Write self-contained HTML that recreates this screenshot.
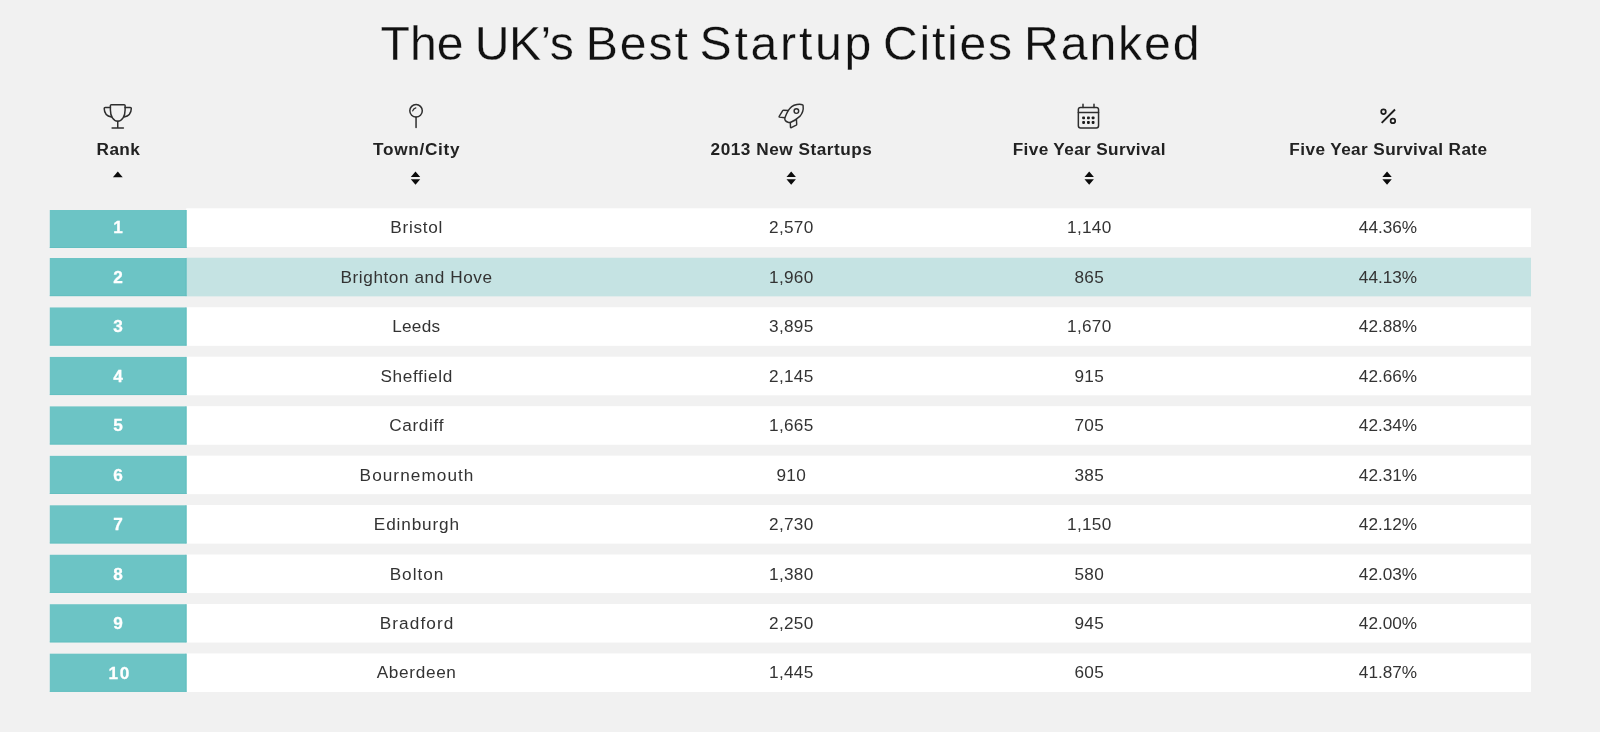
<!DOCTYPE html>
<html lang="en"><head><meta charset="utf-8"><title>The UK's Best Startup Cities Ranked</title>
<style>
html,body{margin:0;padding:0;}
body{width:1600px;height:732px;background:#f1f1f1;position:relative;overflow:hidden;font-family:"Liberation Sans",sans-serif;color:#333;}
.abs{position:absolute;}
.c,.hl,h1{will-change:transform;}
h1{position:absolute;left:0;margin:0;width:1600px;height:52px;font-weight:400;font-size:48.2px;line-height:52px;top:16.9px;color:#111;-webkit-text-stroke:0.3px #f1f1f1;white-space:nowrap;}
h1 span{position:absolute;top:0;}
.hl{position:absolute;width:300px;text-align:center;font-weight:700;font-size:17.2px;line-height:20px;top:139.1px;color:#222;white-space:nowrap;}
.c.k{color:#fff;font-weight:700;-webkit-text-stroke:0.3px #fff;}
.c{position:absolute;width:300px;text-align:center;font-size:17.2px;line-height:20px;color:#333;white-space:nowrap;}
</style></head>
<body>
<h1><span style="left:380.6px;letter-spacing:-0.10px">The</span> <span style="left:474.8px;letter-spacing:-0.60px">UK’s</span> <span style="left:585.8px;letter-spacing:1.90px">Best</span> <span style="left:699.6px;letter-spacing:2.73px">Startup</span> <span style="left:883.0px;letter-spacing:1.70px">Cities</span> <span style="left:1024.0px;letter-spacing:1.90px">Ranked</span></h1>
<svg class="abs" style="left:0;top:95px" width="1600" height="40" viewBox="0 95 1600 40" fill="none" stroke="#2e2e2e" stroke-width="1.5" stroke-linecap="round" stroke-linejoin="round">
<!-- trophy -->
<g>
<path d="M110.4 105.6 Q110.4 104.65 111.4 104.65 H124.1 Q125.1 104.65 125.1 105.6 V110 C125.1 116.2 122.2 121.2 117.75 121.2 C113.3 121.2 110.4 116.2 110.4 110 Z"/>
<path d="M110.4 107.6 H105.2 Q104.2 107.6 104.2 108.6 C104.3 113.3 107 116.3 111.4 117.1"/>
<path d="M125.1 107.6 H130.3 Q131.3 107.6 131.3 108.6 C131.2 113.3 128.5 116.3 124.1 117.1"/>
<path d="M117.75 121.2 V128 M112.1 128 H123.4"/>
</g>
<!-- pin -->
<g>
<circle cx="416.05" cy="110.8" r="6.25"/>
<path d="M416.05 117.2 V127.5"/>
<path d="M412.7 110.8 C413.1 109.3 414.2 108.2 415.8 107.8" stroke-width="1.3"/>
</g>
<!-- rocket -->
<g stroke-width="1.45">
<path d="M802.4 104.7 C799.5 103.8 794.5 104.6 791.7 106.6 C788.6 109 786.6 113 785 117.5 C784.2 119.8 785.6 121.6 788 122.2 C789 122.5 790 122.5 790.8 122.2 C794 121 797.5 118.5 799.8 116.4 C802.4 113.5 803.5 108.5 803.1 105.6 C803 105.1 802.8 104.8 802.4 104.7 Z"/>
<circle cx="796.4" cy="111.05" r="2.3"/>
<path d="M788 110.5 L783.6 110.2 Q783 110.2 782.7 110.7 L779.2 116.4 Q778.9 117 779.6 117.1 L784.6 117.7"/>
<path d="M790.3 122.4 L790.5 127.2 Q790.6 128 791.3 127.6 L796.2 125.1 Q796.7 124.8 796.7 124.2 L796.4 119.2"/>
</g>
<!-- calendar -->
<g>
<rect x="1078.35" y="107.4" width="20.2" height="20.6" rx="2.2"/>
<path d="M1078.35 112.6 H1098.55 M1083 104.3 V107.4 M1094 104.3 V107.4"/>
<g fill="#1c1c1c" stroke="none">
<rect x="1082.2" y="116.55" width="2.8" height="2.8" rx="0.8"/><rect x="1087" y="116.55" width="2.8" height="2.8" rx="0.8"/><rect x="1091.7" y="116.55" width="2.8" height="2.8" rx="0.8"/>
<rect x="1082.2" y="121.1" width="2.8" height="2.8" rx="0.8"/><rect x="1087" y="121.1" width="2.8" height="2.8" rx="0.8"/><rect x="1091.7" y="121.1" width="2.8" height="2.8" rx="0.8"/>
</g>
</g>
<!-- percent -->
<g stroke-width="1.7" stroke="#1e1e1e">
<circle cx="1383.5" cy="111.75" r="2.3"/>
<circle cx="1392.9" cy="120.9" r="2.3"/>
<path d="M1381.7 122.8 L1395 109.5" stroke-width="1.9" stroke-linecap="butt"/>
</g>
</svg>
<div class="hl" style="left:-32.0px;letter-spacing:0.37px;padding-left:0.37px;">Rank</div>
<div class="hl" style="left:266.1px;letter-spacing:0.70px;padding-left:0.70px;">Town/City</div>
<div class="hl" style="left:641.0px;letter-spacing:0.53px;padding-left:0.53px;">2013 New Startups</div>
<div class="hl" style="left:939.0px;letter-spacing:0.35px;padding-left:0.35px;">Five Year Survival</div>
<div class="hl" style="left:1237.8px;letter-spacing:0.40px;padding-left:0.40px;">Five Year Survival Rate</div>
<svg class="abs" style="left:0;top:165px" width="1600" height="30" viewBox="0 165 1600 30" fill="#0c0c0c">
<path d="M112.90 177.2 L117.80 171.6 L122.70 177.2 Z"/>
<path d="M410.80 177 L415.50 171.5 L420.20 177 Z M410.80 179.3 L420.20 179.3 L415.50 184.8 Z"/>
<path d="M786.50 177 L791.20 171.5 L795.90 177 Z M786.50 179.3 L795.90 179.3 L791.20 184.8 Z"/>
<path d="M1084.50 177 L1089.20 171.5 L1093.90 177 Z M1084.50 179.3 L1093.90 179.3 L1089.20 184.8 Z"/>
<path d="M1382.35 177 L1387.05 171.5 L1391.75 177 Z M1382.35 179.3 L1391.75 179.3 L1387.05 184.8 Z"/>
</svg>
<svg class="abs" style="left:0;top:200px" width="1600" height="500" viewBox="0 200 1600 500">
<rect x="186.2" y="208.30" width="1344.8" height="38.80" fill="#fff"/>
<rect x="49.8" y="210.00" width="136.7" height="38.00" fill="#6cc4c5"/>
<rect x="185.6" y="210.00" width="0.9" height="38.00" fill="#5fbdbe"/>
<rect x="49.8" y="247.10" width="136.7" height="0.9" fill="#63bfc0"/>
<rect x="186.2" y="257.76" width="1344.8" height="38.60" fill="#c5e3e3"/>
<rect x="49.8" y="258.01" width="136.7" height="38.10" fill="#6cc4c5"/>
<rect x="185.6" y="258.01" width="0.9" height="38.10" fill="#5fbdbe"/>
<rect x="49.8" y="295.21" width="136.7" height="0.9" fill="#63bfc0"/>
<rect x="186.2" y="307.22" width="1344.8" height="38.60" fill="#fff"/>
<rect x="49.8" y="307.47" width="136.7" height="38.10" fill="#6cc4c5"/>
<rect x="185.6" y="307.47" width="0.9" height="38.10" fill="#5fbdbe"/>
<rect x="49.8" y="344.67" width="136.7" height="0.9" fill="#63bfc0"/>
<rect x="186.2" y="356.68" width="1344.8" height="38.60" fill="#fff"/>
<rect x="49.8" y="356.93" width="136.7" height="38.10" fill="#6cc4c5"/>
<rect x="185.6" y="356.93" width="0.9" height="38.10" fill="#5fbdbe"/>
<rect x="49.8" y="394.13" width="136.7" height="0.9" fill="#63bfc0"/>
<rect x="186.2" y="406.14" width="1344.8" height="38.60" fill="#fff"/>
<rect x="49.8" y="406.39" width="136.7" height="38.10" fill="#6cc4c5"/>
<rect x="185.6" y="406.39" width="0.9" height="38.10" fill="#5fbdbe"/>
<rect x="49.8" y="443.59" width="136.7" height="0.9" fill="#63bfc0"/>
<rect x="186.2" y="455.60" width="1344.8" height="38.60" fill="#fff"/>
<rect x="49.8" y="455.85" width="136.7" height="38.10" fill="#6cc4c5"/>
<rect x="185.6" y="455.85" width="0.9" height="38.10" fill="#5fbdbe"/>
<rect x="49.8" y="493.05" width="136.7" height="0.9" fill="#63bfc0"/>
<rect x="186.2" y="505.06" width="1344.8" height="38.60" fill="#fff"/>
<rect x="49.8" y="505.31" width="136.7" height="38.10" fill="#6cc4c5"/>
<rect x="185.6" y="505.31" width="0.9" height="38.10" fill="#5fbdbe"/>
<rect x="49.8" y="542.51" width="136.7" height="0.9" fill="#63bfc0"/>
<rect x="186.2" y="554.52" width="1344.8" height="38.60" fill="#fff"/>
<rect x="49.8" y="554.77" width="136.7" height="38.10" fill="#6cc4c5"/>
<rect x="185.6" y="554.77" width="0.9" height="38.10" fill="#5fbdbe"/>
<rect x="49.8" y="591.97" width="136.7" height="0.9" fill="#63bfc0"/>
<rect x="186.2" y="603.98" width="1344.8" height="38.60" fill="#fff"/>
<rect x="49.8" y="604.23" width="136.7" height="38.10" fill="#6cc4c5"/>
<rect x="185.6" y="604.23" width="0.9" height="38.10" fill="#5fbdbe"/>
<rect x="49.8" y="641.43" width="136.7" height="0.9" fill="#63bfc0"/>
<rect x="186.2" y="653.44" width="1344.8" height="38.60" fill="#fff"/>
<rect x="49.8" y="653.69" width="136.7" height="38.10" fill="#6cc4c5"/>
<rect x="185.6" y="653.69" width="0.9" height="38.10" fill="#5fbdbe"/>
<rect x="49.8" y="690.89" width="136.7" height="0.9" fill="#63bfc0"/>
</svg>
<div class="c k" style="left:-32.3px;top:217.00px;">1</div>
<div class="c" style="left:266.3px;top:217.00px;letter-spacing:0.70px;padding-left:0.70px;">Bristol</div>
<div class="c" style="left:640.8px;top:217.00px;letter-spacing:0.30px;padding-left:0.30px;">2,570</div>
<div class="c" style="left:939.1px;top:217.00px;letter-spacing:0.30px;padding-left:0.30px;">1,140</div>
<div class="c" style="left:1237.8px;top:217.00px;">44.36%</div>
<div class="c k" style="left:-32.3px;top:267.00px;">2</div>
<div class="c" style="left:266.3px;top:267.00px;letter-spacing:0.57px;padding-left:0.57px;">Brighton and Hove</div>
<div class="c" style="left:640.8px;top:267.00px;letter-spacing:0.30px;padding-left:0.30px;">1,960</div>
<div class="c" style="left:939.1px;top:267.00px;letter-spacing:0.30px;padding-left:0.30px;">865</div>
<div class="c" style="left:1237.8px;top:267.00px;">44.13%</div>
<div class="c k" style="left:-32.3px;top:316.00px;">3</div>
<div class="c" style="left:266.3px;top:316.00px;letter-spacing:0.28px;padding-left:0.28px;">Leeds</div>
<div class="c" style="left:640.8px;top:316.00px;letter-spacing:0.30px;padding-left:0.30px;">3,895</div>
<div class="c" style="left:939.1px;top:316.00px;letter-spacing:0.30px;padding-left:0.30px;">1,670</div>
<div class="c" style="left:1237.8px;top:316.00px;">42.88%</div>
<div class="c k" style="left:-32.3px;top:366.00px;">4</div>
<div class="c" style="left:266.3px;top:366.00px;letter-spacing:0.66px;padding-left:0.66px;">Sheffield</div>
<div class="c" style="left:640.8px;top:366.00px;letter-spacing:0.30px;padding-left:0.30px;">2,145</div>
<div class="c" style="left:939.1px;top:366.00px;letter-spacing:0.30px;padding-left:0.30px;">915</div>
<div class="c" style="left:1237.8px;top:366.00px;">42.66%</div>
<div class="c k" style="left:-32.3px;top:415.00px;">5</div>
<div class="c" style="left:266.3px;top:415.00px;letter-spacing:0.65px;padding-left:0.65px;">Cardiff</div>
<div class="c" style="left:640.8px;top:415.00px;letter-spacing:0.30px;padding-left:0.30px;">1,665</div>
<div class="c" style="left:939.1px;top:415.00px;letter-spacing:0.30px;padding-left:0.30px;">705</div>
<div class="c" style="left:1237.8px;top:415.00px;">42.34%</div>
<div class="c k" style="left:-32.3px;top:465.00px;">6</div>
<div class="c" style="left:266.3px;top:465.00px;letter-spacing:1.06px;padding-left:1.06px;">Bournemouth</div>
<div class="c" style="left:640.8px;top:465.00px;letter-spacing:0.30px;padding-left:0.30px;">910</div>
<div class="c" style="left:939.1px;top:465.00px;letter-spacing:0.30px;padding-left:0.30px;">385</div>
<div class="c" style="left:1237.8px;top:465.00px;">42.31%</div>
<div class="c k" style="left:-32.3px;top:514.00px;">7</div>
<div class="c" style="left:266.3px;top:514.00px;letter-spacing:0.85px;padding-left:0.85px;">Edinburgh</div>
<div class="c" style="left:640.8px;top:514.00px;letter-spacing:0.30px;padding-left:0.30px;">2,730</div>
<div class="c" style="left:939.1px;top:514.00px;letter-spacing:0.30px;padding-left:0.30px;">1,150</div>
<div class="c" style="left:1237.8px;top:514.00px;">42.12%</div>
<div class="c k" style="left:-32.3px;top:564.00px;">8</div>
<div class="c" style="left:266.3px;top:564.00px;letter-spacing:0.98px;padding-left:0.98px;">Bolton</div>
<div class="c" style="left:640.8px;top:564.00px;letter-spacing:0.30px;padding-left:0.30px;">1,380</div>
<div class="c" style="left:939.1px;top:564.00px;letter-spacing:0.30px;padding-left:0.30px;">580</div>
<div class="c" style="left:1237.8px;top:564.00px;">42.03%</div>
<div class="c k" style="left:-32.3px;top:613.00px;">9</div>
<div class="c" style="left:266.3px;top:613.00px;letter-spacing:1.11px;padding-left:1.11px;">Bradford</div>
<div class="c" style="left:640.8px;top:613.00px;letter-spacing:0.30px;padding-left:0.30px;">2,250</div>
<div class="c" style="left:939.1px;top:613.00px;letter-spacing:0.30px;padding-left:0.30px;">945</div>
<div class="c" style="left:1237.8px;top:613.00px;">42.00%</div>
<div class="c k" style="left:-32.3px;top:663.00px;letter-spacing:1.80px;padding-left:1.80px;">10</div>
<div class="c" style="left:266.3px;top:662.00px;letter-spacing:0.67px;padding-left:0.67px;">Aberdeen</div>
<div class="c" style="left:640.8px;top:662.00px;letter-spacing:0.30px;padding-left:0.30px;">1,445</div>
<div class="c" style="left:939.1px;top:662.00px;letter-spacing:0.30px;padding-left:0.30px;">605</div>
<div class="c" style="left:1237.8px;top:662.00px;">41.87%</div>
</body></html>
